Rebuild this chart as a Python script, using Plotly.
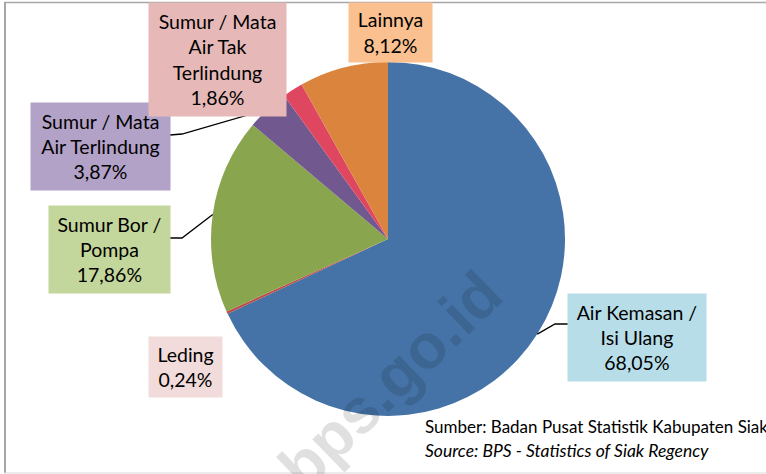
import math
import plotly.graph_objects as go

# ---- data ----
categories = ["Air Kemasan / Isi Ulang", "Leding", "Sumur Bor / Pompa",
              "Sumur / Mata Air Terlindung", "Sumur / Mata Air Tak Terlindung", "Lainnya"]
values = [68.05, 0.24, 17.86, 3.87, 1.86, 8.12]
label_lines = ["Air Kemasan /<br>Isi Ulang", "Leding", "Sumur Bor /<br>Pompa",
               "Sumur / Mata<br>Air Terlindung", "Sumur / Mata<br>Air Tak<br>Terlindung", "Lainnya"]
pct_labels = ["68,05%", "0,24%", "17,86%", "3,87%", "1,86%", "8,12%"]

# ---- styles / layout ----
slice_colors = ["#4573A7", "#BE4B48", "#89A54E", "#71588F", "#DF4760", "#DB843D"]
box_colors = ["#B7DEE8", "#F2DCDB", "#C3D69B", "#B3A2C7", "#E6B9B8", "#FAC090"]

W, H = 766, 474
CX, CY, R = 388, 239, 177
FONT = "Lato"

# label box: (center x, center y, width, height) in pixels
boxes = [(637, 337.5, 138, 87), (185.5, 367, 73, 60), (109.5, 249.5, 121, 87),
         (100.5, 146.5, 139, 87), (217.5, 59.5, 137, 113), (390.5, 32.5, 83, 59)]
# leader line: (box edge point, elbow point) or None
leaders = [((568, 324), (555, 324)), None, ((170, 238), (182, 238)),
           ((170, 135), (182, 134)), None, None]


def px(x):
    return x / W


def py(y):
    return 1 - y / H


fig = go.Figure(go.Pie(
    labels=categories, values=values, sort=False, direction="clockwise",
    rotation=0, textinfo="none", hoverinfo="label+percent",
    marker=dict(colors=slice_colors, line=dict(width=0)),
    domain=dict(x=[px(CX - R), px(CX + R)], y=[py(CY + R), py(CY - R)]),
    showlegend=False,
))

shapes = []
total = sum(values)
cum = 0.0
for i, v in enumerate(values):
    mid = (cum + v / 2) / total
    cum += v
    if leaders[i] is None:
        continue
    a = 2 * math.pi * mid
    sx = CX + R * math.sin(a)
    sy = CY - R * math.cos(a)
    (ex, ey), (kx, ky) = leaders[i]
    path = f"M {px(sx)} {py(sy)} L {px(kx)} {py(ky)} L {px(ex)} {py(ey)}"
    shapes.append(dict(type="path", xref="paper", yref="paper", path=path,
                       line=dict(color="black", width=1.3)))

# figure border
shapes.append(dict(type="line", xref="paper", yref="paper", x0=px(5), x1=px(5),
                   y0=py(2), y1=py(473), line=dict(color="#A6A6A6", width=2)))
shapes.append(dict(type="line", xref="paper", yref="paper", x0=px(4), x1=1,
                   y0=py(2.5), y1=py(2.5), line=dict(color="#A6A6A6", width=1.5)))
shapes.append(dict(type="line", xref="paper", yref="paper", x0=px(4), x1=1,
                   y0=py(473), y1=py(473), line=dict(color="#D9D9D9", width=1)))

annotations = []
# watermark
annotations.append(dict(text="<b>bps.go.id</b>", xref="paper", yref="paper",
                        x=px(390), y=py(380), showarrow=False, textangle=-44,
                        font=dict(family="Liberation Sans", size=63, color="rgba(0,0,0,0.12)"),
                        xanchor="center", yanchor="middle"))

for i in range(len(categories)):
    cx, cy, bw, bh = boxes[i]
    annotations.append(dict(
        text=f"{label_lines[i]}<br>{pct_labels[i]}", xref="paper", yref="paper",
        x=px(cx), y=py(cy), xanchor="center", yanchor="middle", showarrow=False,
        width=bw, height=bh, bgcolor=box_colors[i], borderpad=0, align="center",
        valign="middle", font=dict(family=FONT, size=19.5, color="black")))

annotations.append(dict(text="Sumber: Badan Pusat Statistik Kabupaten Siak",
                        xref="paper", yref="paper", x=px(423), y=py(426),
                        xanchor="left", yanchor="middle", showarrow=False,
                        font=dict(family=FONT, size=17, color="black")))
annotations.append(dict(text="<i>Source: BPS - Statistics of Siak Regency</i>",
                        xref="paper", yref="paper", x=px(423), y=py(450),
                        xanchor="left", yanchor="middle", showarrow=False,
                        font=dict(family=FONT, size=17.5, color="black")))

fig.update_layout(width=W, height=H, margin=dict(l=0, r=0, t=0, b=0),
                  paper_bgcolor="white", plot_bgcolor="white",
                  shapes=shapes, annotations=annotations)

fig.write_html("out.html", config={"displayModeBar": False},
               post_script="document.body.style.margin='0';document.body.style.overflow='hidden';")
